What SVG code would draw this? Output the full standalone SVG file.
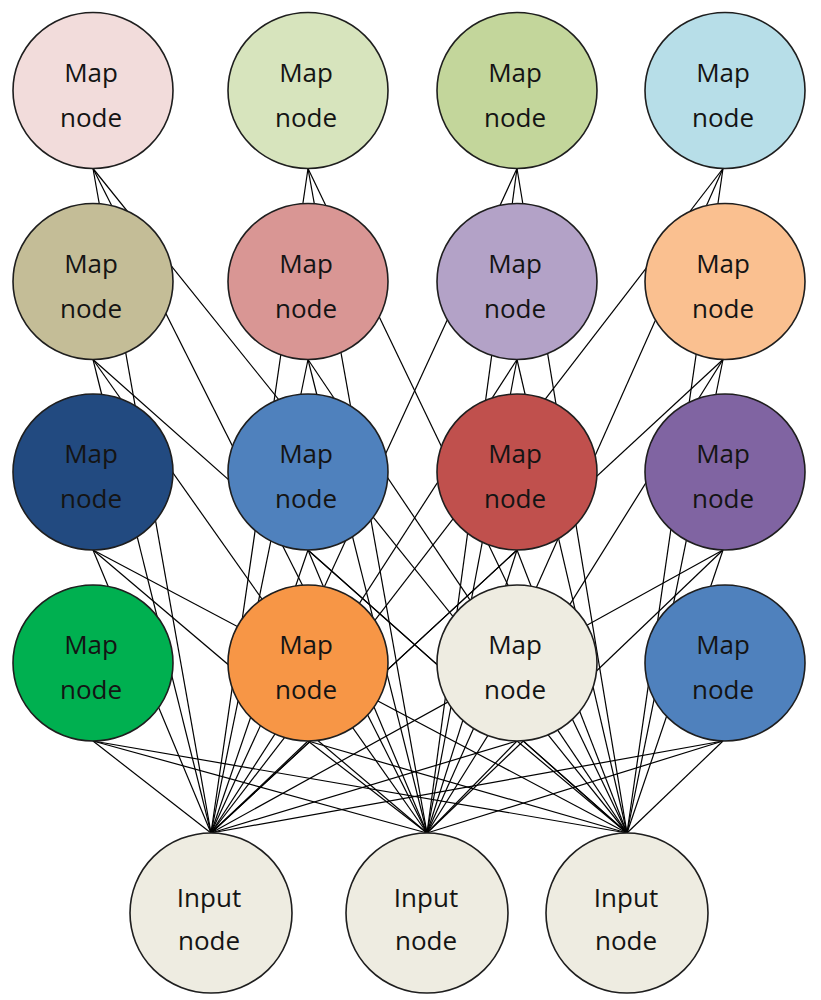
<svg xmlns="http://www.w3.org/2000/svg" width="821" height="1000" viewBox="0 0 821 1000">
<style>
.c{stroke:#1e1e1e;stroke-width:1.6}
.t{font-family:"Open Sans","Liberation Sans",sans-serif;font-size:26px;fill:#141414;text-anchor:middle}
#connectors line{stroke:#000;stroke-width:1.2}
</style>
<rect width="821" height="1000" fill="#fff"/>
<g id="connectors">
<!-- row 1 bottoms y=168.5 -->
<line x1="93" y1="168.5" x2="211" y2="833"/><line x1="93" y1="168.5" x2="427" y2="833"/><line x1="93" y1="168.5" x2="627" y2="833"/>
<line x1="308" y1="168.5" x2="211" y2="833"/><line x1="308" y1="168.5" x2="427" y2="833"/><line x1="308" y1="168.5" x2="627" y2="833"/>
<line x1="517" y1="168.5" x2="211" y2="833"/><line x1="517" y1="168.5" x2="427" y2="833"/><line x1="517" y1="168.5" x2="627" y2="833"/>
<line x1="723" y1="168.5" x2="211" y2="833"/><line x1="723" y1="168.5" x2="427" y2="833"/><line x1="723" y1="168.5" x2="627" y2="833"/>
<!-- row 2 bottoms y=359.5 -->
<line x1="93" y1="359.5" x2="211" y2="833"/><line x1="93" y1="359.5" x2="427" y2="833"/><line x1="93" y1="359.5" x2="627" y2="833"/>
<line x1="308" y1="359.5" x2="211" y2="833"/><line x1="308" y1="359.5" x2="427" y2="833"/><line x1="308" y1="359.5" x2="627" y2="833"/>
<line x1="517" y1="359.5" x2="211" y2="833"/><line x1="517" y1="359.5" x2="427" y2="833"/><line x1="517" y1="359.5" x2="627" y2="833"/>
<line x1="723" y1="359.5" x2="211" y2="833"/><line x1="723" y1="359.5" x2="427" y2="833"/><line x1="723" y1="359.5" x2="627" y2="833"/>
<!-- row 3 bottoms y=550 -->
<line x1="93" y1="550" x2="211" y2="833"/><line x1="93" y1="550" x2="427" y2="833"/><line x1="93" y1="550" x2="627" y2="833"/>
<line x1="308" y1="550" x2="211" y2="833"/><line x1="308" y1="550" x2="427" y2="833"/><line x1="308" y1="550" x2="627" y2="833"/>
<line x1="517" y1="550" x2="211" y2="833"/><line x1="517" y1="550" x2="427" y2="833"/><line x1="517" y1="550" x2="627" y2="833"/>
<line x1="723" y1="550" x2="211" y2="833"/><line x1="723" y1="550" x2="427" y2="833"/><line x1="723" y1="550" x2="627" y2="833"/>
<!-- row 4 bottoms y=741 -->
<line x1="93" y1="741" x2="211" y2="833"/><line x1="93" y1="741" x2="427" y2="833"/><line x1="93" y1="741" x2="627" y2="833"/>
<line x1="308" y1="741" x2="211" y2="833"/><line x1="308" y1="741" x2="427" y2="833"/><line x1="308" y1="741" x2="627" y2="833"/>
<line x1="517" y1="741" x2="211" y2="833"/><line x1="517" y1="741" x2="427" y2="833"/><line x1="517" y1="741" x2="627" y2="833"/>
<line x1="723" y1="741" x2="211" y2="833"/><line x1="723" y1="741" x2="427" y2="833"/><line x1="723" y1="741" x2="627" y2="833"/>
</g>
<g id="map-1-1"><ellipse class="c" cx="93" cy="90.5" rx="80" ry="78" fill="#F2DCDB"/><text class="t" x="91" y="81.5">Map</text><text class="t" x="91" y="126.5">node</text></g>
<g id="map-1-2"><ellipse class="c" cx="308" cy="90.5" rx="80" ry="78" fill="#D7E4BD"/><text class="t" x="306" y="81.5">Map</text><text class="t" x="306" y="126.5">node</text></g>
<g id="map-1-3"><ellipse class="c" cx="517" cy="90.5" rx="80" ry="78" fill="#C3D69B"/><text class="t" x="515" y="81.5">Map</text><text class="t" x="515" y="126.5">node</text></g>
<g id="map-1-4"><ellipse class="c" cx="725" cy="90.5" rx="80" ry="78" fill="#B7DEE8"/><text class="t" x="723" y="81.5">Map</text><text class="t" x="723" y="126.5">node</text></g>
<g id="map-2-1"><ellipse class="c" cx="93" cy="281.5" rx="80" ry="78" fill="#C4BD97"/><text class="t" x="91" y="272.5">Map</text><text class="t" x="91" y="317.5">node</text></g>
<g id="map-2-2"><ellipse class="c" cx="308" cy="281.5" rx="80" ry="78" fill="#D99694"/><text class="t" x="306" y="272.5">Map</text><text class="t" x="306" y="317.5">node</text></g>
<g id="map-2-3"><ellipse class="c" cx="517" cy="281.5" rx="80" ry="78" fill="#B3A2C7"/><text class="t" x="515" y="272.5">Map</text><text class="t" x="515" y="317.5">node</text></g>
<g id="map-2-4"><ellipse class="c" cx="725" cy="281.5" rx="80" ry="78" fill="#FAC090"/><text class="t" x="723" y="272.5">Map</text><text class="t" x="723" y="317.5">node</text></g>
<g id="map-3-1"><ellipse class="c" cx="93" cy="472" rx="80" ry="78" fill="#224A80"/><text class="t" x="91" y="463">Map</text><text class="t" x="91" y="508">node</text></g>
<g id="map-3-2"><ellipse class="c" cx="308" cy="472" rx="80" ry="78" fill="#4F81BD"/><text class="t" x="306" y="463">Map</text><text class="t" x="306" y="508">node</text></g>
<g id="map-3-3"><ellipse class="c" cx="517" cy="472" rx="80" ry="78" fill="#C0504D"/><text class="t" x="515" y="463">Map</text><text class="t" x="515" y="508">node</text></g>
<g id="map-3-4"><ellipse class="c" cx="725" cy="472" rx="80" ry="78" fill="#8064A2"/><text class="t" x="723" y="463">Map</text><text class="t" x="723" y="508">node</text></g>
<g id="map-4-1"><ellipse class="c" cx="93" cy="663" rx="80" ry="78" fill="#00B050"/><text class="t" x="91" y="654">Map</text><text class="t" x="91" y="699">node</text></g>
<g id="map-4-2"><ellipse class="c" cx="308" cy="663" rx="80" ry="78" fill="#F79646"/><text class="t" x="306" y="654">Map</text><text class="t" x="306" y="699">node</text></g>
<g id="map-4-3"><ellipse class="c" cx="517" cy="663" rx="80" ry="78" fill="#EEECE1"/><text class="t" x="515" y="654">Map</text><text class="t" x="515" y="699">node</text></g>
<g id="map-4-4"><ellipse class="c" cx="725" cy="663" rx="80" ry="78" fill="#4F81BD"/><text class="t" x="723" y="654">Map</text><text class="t" x="723" y="699">node</text></g>
<g id="input-1"><ellipse class="c" cx="211" cy="913" rx="81" ry="80" fill="#EEECE1"/><text class="t" x="209" y="907">Input</text><text class="t" x="209" y="950">node</text></g>
<g id="input-2"><ellipse class="c" cx="427" cy="913" rx="81" ry="80" fill="#EEECE1"/><text class="t" x="426" y="907">Input</text><text class="t" x="426" y="950">node</text></g>
<g id="input-3"><ellipse class="c" cx="627" cy="913" rx="81" ry="80" fill="#EEECE1"/><text class="t" x="626" y="907">Input</text><text class="t" x="626" y="950">node</text></g>
</svg>
